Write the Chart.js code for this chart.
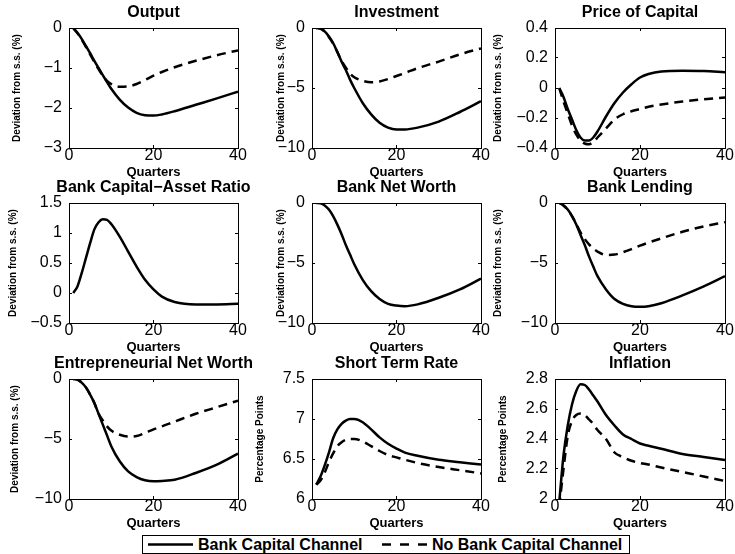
<!DOCTYPE html>
<html>
<head>
<meta charset="utf-8">
<title>Impulse responses</title>
<script src="https://cdn.jsdelivr.net/npm/chart.js@4.4.1/dist/chart.umd.min.js"></script>
<style>
  html, body { margin: 0; padding: 0; overflow: hidden; background: #fff; }
  body { position: relative; width: 735px; height: 554px; font-family: "Liberation Sans", Arial, Helvetica, sans-serif; }
  canvas { position: absolute; }
  #legend { position: absolute; left: 142px; top: 535px; width: 486px; height: 17px; border: 1px solid #000; background: #fff; }
  #legend span { position: absolute; top: 0; font-weight: bold; font-size: 16px; line-height: 17px; white-space: nowrap; color: #000; }
  #legend svg { position: absolute; left: 0; top: 0; }
</style>
</head>
<body>
<div id="legend">
  <svg width="486" height="17">
    <line x1="5" y1="8.5" x2="50" y2="8.5" stroke="#000" stroke-width="2.5"/>
    <line x1="239" y1="8.5" x2="284" y2="8.5" stroke="#000" stroke-width="2.5" stroke-dasharray="9,9"/>
  </svg>
  <span style="left:55px">Bank Capital Channel</span>
  <span style="left:289px">No Bank Capital Channel</span>
</div>
<script>
// quarters after the shock (shared x values for every series)
var quarters = [1,2,3,4,5,6,7,8,9,10,12,14,16,18,20,22,25,30,35,40];

// "Bank Capital Channel" (solid) and "No Bank Capital Channel" (dashed)
var outputBank     = [0,-0.12,-0.27,-0.45,-0.63,-0.82,-1.0,-1.18,-1.35,-1.52,-1.79,-1.99,-2.12,-2.18,-2.19,-2.16,-2.08,-1.92,-1.76,-1.59];
var outputNoBank   = [0,-0.13,-0.29,-0.47,-0.66,-0.85,-1.03,-1.2,-1.32,-1.4,-1.47,-1.46,-1.4,-1.3,-1.19,-1.1,-0.98,-0.82,-0.68,-0.56];
var investBank     = [0,-0.05,-0.28,-0.7,-1.25,-2.0,-2.8,-3.5,-4.3,-5.0,-6.25,-7.2,-7.9,-8.3,-8.45,-8.45,-8.3,-7.8,-7.0,-6.1];
var investNoBank   = [0,-0.05,-0.3,-0.75,-1.3,-2.0,-2.75,-3.3,-3.8,-4.1,-4.4,-4.52,-4.45,-4.25,-4.0,-3.75,-3.35,-2.8,-2.2,-1.7];
var priceBank      = [0,-0.06,-0.14,-0.21,-0.28,-0.33,-0.35,-0.35,-0.33,-0.29,-0.19,-0.1,-0.03,0.025,0.07,0.093,0.11,0.115,0.113,0.105];
var priceNoBank    = [0,-0.09,-0.17,-0.25,-0.31,-0.35,-0.37,-0.375,-0.36,-0.33,-0.27,-0.21,-0.175,-0.155,-0.14,-0.125,-0.11,-0.09,-0.075,-0.063];
var capRatioBank   = [0,0.11,0.33,0.58,0.83,1.06,1.18,1.23,1.22,1.15,0.94,0.69,0.44,0.22,0.06,-0.06,-0.15,-0.19,-0.19,-0.18];
var bankWorthBank  = [0,-0.03,-0.2,-0.55,-1.1,-1.8,-2.6,-3.5,-4.3,-5.1,-6.4,-7.35,-8.0,-8.4,-8.55,-8.6,-8.45,-7.9,-7.2,-6.3];
var lendingBank    = [0,-0.2,-0.55,-1.1,-1.8,-2.65,-3.5,-4.45,-5.3,-6.1,-7.2,-8.0,-8.4,-8.6,-8.65,-8.6,-8.35,-7.7,-6.95,-6.1];
var lendingNoBank  = [0,-0.2,-0.55,-1.1,-1.75,-2.45,-3.0,-3.45,-3.8,-4.05,-4.33,-4.3,-4.1,-3.85,-3.55,-3.3,-2.95,-2.4,-1.95,-1.6];
var entWorthBank   = [0,-0.05,-0.3,-0.7,-1.3,-2.0,-2.9,-3.8,-4.7,-5.6,-6.86,-7.7,-8.17,-8.44,-8.53,-8.5,-8.4,-7.83,-7.14,-6.22];
var entWorthNoBank = [0,-0.05,-0.3,-0.7,-1.3,-2.0,-2.9,-3.45,-3.95,-4.3,-4.65,-4.8,-4.75,-4.5,-4.2,-3.95,-3.55,-2.9,-2.35,-1.8];
var rateBank       = [6.18,6.28,6.42,6.58,6.76,6.87,6.94,6.98,7.0,7.0,6.96,6.87,6.77,6.69,6.63,6.58,6.54,6.49,6.46,6.43];
var rateNoBank     = [6.18,6.23,6.33,6.46,6.57,6.66,6.71,6.74,6.75,6.75,6.72,6.66,6.6,6.55,6.52,6.49,6.45,6.4,6.36,6.32];
var inflBank       = [1.98,2.29,2.49,2.63,2.72,2.765,2.76,2.73,2.69,2.65,2.56,2.49,2.43,2.4,2.37,2.355,2.335,2.3,2.28,2.26];
var inflNoBank     = [1.95,2.2,2.42,2.52,2.56,2.57,2.56,2.53,2.5,2.46,2.4,2.31,2.28,2.255,2.24,2.23,2.21,2.18,2.15,2.12];

var DEV = "Deviation from s.s. (%)";
var PCT = "Percentage Points";

// one entry per subplot: plot box (L,T,R,B) in page pixels, y title distance from the left edge
var panels = [
  {title: "Output", yLabel: DEV, min: -3, max: 0, step: 1, bank: outputBank, noBank: outputNoBank, L: 69, T: 28, R: 238, B: 148, yGap: 52},
  {title: "Investment", yLabel: DEV, min: -10, max: 0, step: 5, bank: investBank, noBank: investNoBank, L: 312, T: 28, R: 481, B: 148, yGap: 31},
  {title: "Price of Capital", yLabel: DEV, min: -0.4, max: 0.4, step: 0.2, bank: priceBank, noBank: priceNoBank, L: 555, T: 28, R: 725, B: 148, yGap: 57},
  {title: "Bank Capital\u2212Asset Ratio", yLabel: DEV, min: -0.5, max: 1.5, step: 0.5, bank: capRatioBank, noBank: null, L: 69, T: 203, R: 238, B: 323, yGap: 56},
  {title: "Bank Net Worth", yLabel: DEV, min: -10, max: 0, step: 5, bank: bankWorthBank, noBank: null, L: 312, T: 203, R: 481, B: 323, yGap: 31},
  {title: "Bank Lending", yLabel: DEV, min: -10, max: 0, step: 5, bank: lendingBank, noBank: lendingNoBank, L: 555, T: 203, R: 725, B: 323, yGap: 58},
  {title: "Entrepreneurial Net Worth", yLabel: DEV, min: -10, max: 0, step: 5, bank: entWorthBank, noBank: entWorthNoBank, L: 69, T: 379, R: 238, B: 499, yGap: 54},
  {title: "Short Term Rate", yLabel: PCT, min: 6, max: 7.5, step: 0.5, bank: rateBank, noBank: rateNoBank, L: 312, T: 379, R: 481, B: 499, yGap: 52},
  {title: "Inflation", yLabel: PCT, min: 2, max: 2.8, step: 0.2, bank: inflBank, noBank: inflNoBank, L: 555, T: 379, R: 725, B: 499, yGap: 52}
];

Chart.defaults.font.family = '"Liberation Sans", Arial, Helvetica, sans-serif';
Chart.defaults.color = "#000";

var AXIS_W = 62, TITLE_H = 28, XAXIS_H = 32;

function fmt(v) {
  var r = Math.round(v * 100) / 100;
  return (r < 0 ? "\u2212" : "") + Math.abs(r);
}

function toPoints(ys) {
  return quarters.map(function (q, i) { return {x: q, y: ys[i]}; });
}

// box edge with short inward tick marks, no grid inside the plot
var frameBorder = {display: true, color: "#000", width: 1};
var inwardTicks = {display: true, drawOnChartArea: false, drawTicks: true, tickLength: -3, color: "#000", lineWidth: 1};

panels.forEach(function (p) {
  var cv = document.createElement("canvas");
  var w = AXIS_W * 2 + (p.R - p.L), h = TITLE_H + (p.B - p.T) + XAXIS_H;
  cv.width = w; cv.height = h;
  cv.style.width = w + "px"; cv.style.height = h + "px";
  cv.style.left = (p.L - AXIS_W) + "px";
  cv.style.top = (p.T - TITLE_H) + "px";
  document.body.appendChild(cv);

  var datasets = [{
    label: "Bank Capital Channel",
    data: toPoints(p.bank),
    borderColor: "#000", borderWidth: 2.5, pointRadius: 0, cubicInterpolationMode: "monotone"
  }];
  if (p.noBank) {
    datasets.push({
      label: "No Bank Capital Channel",
      data: toPoints(p.noBank),
      borderColor: "#000", borderWidth: 2.5, borderDash: [9, 6], pointRadius: 0, cubicInterpolationMode: "monotone"
    });
  }

  new Chart(cv, {
    type: "line",
    data: {datasets: datasets},
    options: {
      responsive: false,
      animation: false,
      devicePixelRatio: 1,
      layout: {padding: 0},
      plugins: {
        legend: {display: false},
        tooltip: {enabled: false},
        title: {display: true, text: p.title, color: "#000",
                font: {size: 16, weight: "bold", lineHeight: "16px"}, padding: {top: 5, bottom: 7}}
      },
      scales: {
        x: {
          type: "linear", position: "bottom", min: 0, max: 40,
          grid: inwardTicks, border: frameBorder,
          ticks: {stepSize: 20, font: {size: 16, lineHeight: 1}, padding: 3, maxRotation: 0, callback: fmt},
          title: {display: true, text: "Quarters", font: {size: 13, weight: "bold"}, padding: {top: 0, bottom: 0}},
          afterFit: function (s) { s.height = XAXIS_H; s.paddingLeft = 0; s.paddingRight = 0; }
        },
        // top edge of the box
        x2: {
          type: "linear", position: "top", min: 0, max: 40,
          grid: inwardTicks, border: frameBorder,
          ticks: {stepSize: 20, display: false},
          afterFit: function (s) { s.height = 0; s.paddingLeft = 0; s.paddingRight = 0; }
        },
        y: {
          type: "linear", position: "left", min: p.min, max: p.max,
          grid: inwardTicks, border: frameBorder,
          ticks: {stepSize: p.step, font: {size: 16}, padding: 10, callback: fmt},
          title: {display: true, text: p.yLabel, font: {size: 10, weight: "bold", lineHeight: 1},
                  padding: {top: Math.max(0, 57 - p.yGap), bottom: 0}},
          afterFit: function (s) { s.width = AXIS_W; s.paddingTop = 0; s.paddingBottom = 0; }
        },
        // right edge of the box; its empty width keeps the title centred over the plot
        y2: {
          type: "linear", position: "right", min: p.min, max: p.max,
          grid: inwardTicks, border: frameBorder,
          ticks: {stepSize: p.step, display: false},
          afterFit: function (s) { s.width = AXIS_W; s.paddingTop = 0; s.paddingBottom = 0; }
        }
      }
    }
  });
});
</script>
</body>
</html>
